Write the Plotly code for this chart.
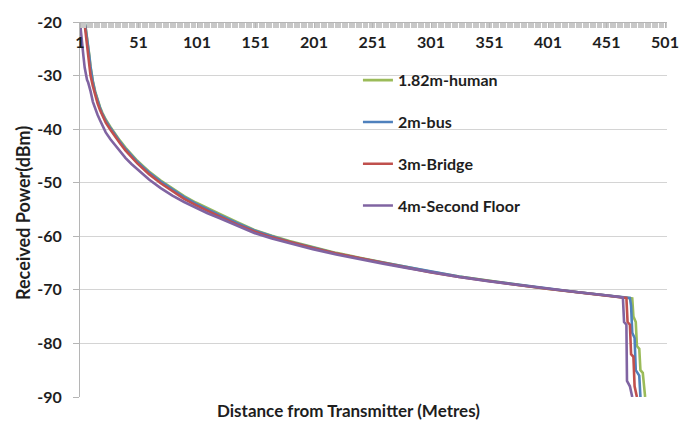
import plotly.graph_objects as go

# ---- data ----
# distance (category index along the x axis) and received power in dBm
green_x = [1, 2, 3, 4, 5, 6, 7, 8, 9, 10, 11, 12, 14, 16, 18, 20, 23, 27, 30, 35, 40, 45, 50, 55, 60, 70, 80, 90,
           100, 110, 120, 135, 150, 165, 180, 200, 220, 240, 260, 280, 300, 325, 350, 375, 400, 425, 450, 473,
           474, 476, 477, 479, 480, 482, 484]
green_y = [-20, -20, -20, -20, -20, -21.3, -22.8, -24.6, -26.3, -28.3, -29.8, -31.0, -33.0, -34.5, -35.8, -36.9,
           -38.2, -39.6, -40.6, -42.1, -43.5, -44.8, -45.9, -46.9, -47.9, -49.6, -51.1, -52.5, -53.7, -54.8, -55.8,
           -57.3, -58.8, -59.9, -60.9, -62.0, -63.1, -64.0, -64.9, -65.8, -66.6, -67.5, -68.3, -69.0, -69.8, -70.4,
           -71.0, -71.6, -75, -76, -80.5, -81, -85, -85.5, -90]

blue_x = [1, 2, 3, 4, 5, 6, 7, 8, 9, 10, 11, 12, 14, 16, 18, 20, 23, 27, 30, 35, 40, 45, 50, 55, 60, 70, 80, 90,
          100, 110, 120, 135, 150, 165, 180, 200, 220, 240, 260, 280, 300, 325, 350, 375, 400, 425, 450, 471,
          472, 473, 475, 476, 479, 480]
blue_y = [-20, -20, -20, -20, -20, -21.5, -23.0, -24.8, -26.5, -28.5, -30.0, -31.2, -33.2, -34.7, -36.0, -37.1,
          -38.4, -39.8, -40.8, -42.3, -43.7, -45.0, -46.1, -47.1, -48.1, -49.8, -51.3, -52.7, -53.9, -55.0, -56.0,
          -57.5, -58.9, -60.0, -61.0, -62.1, -63.2, -64.1, -64.9, -65.8, -66.6, -67.5, -68.3, -69.0, -69.8, -70.4,
          -71.0, -71.5, -73, -78, -79, -85, -86, -90]

red_x = [1, 2, 3, 4, 5, 6, 7, 8, 9, 10, 12, 14, 16, 18, 20, 23, 27, 30, 35, 40, 45, 50, 55, 60, 70, 80, 90,
         100, 110, 120, 135, 150, 165, 180, 200, 220, 240, 260, 280, 300, 325, 350, 375, 400, 425, 450, 468,
         469, 471, 472, 474, 475, 477]
red_y = [-20, -20, -20, -20, -20.5, -22.5, -24.0, -25.8, -28.0, -30.0, -32.0, -33.8, -35.2, -36.4, -37.5, -38.8,
         -40.1, -41.1, -42.6, -44.0, -45.3, -46.4, -47.4, -48.4, -50.1, -51.6, -53.0, -54.2, -55.3, -56.3, -57.8,
         -59.1, -60.2, -61.1, -62.2, -63.2, -64.1, -64.9, -65.8, -66.7, -67.6, -68.4, -69.1, -69.8, -70.4, -71.0,
         -71.5, -76, -76.5, -82, -82.5, -88, -90]

purple_x = [1, 2, 3, 4, 5, 6, 7, 8, 9, 10, 12, 14, 16, 18, 20, 23, 27, 30, 35, 40, 45, 50, 55, 60, 70, 80, 90,
            100, 110, 120, 135, 150, 165, 180, 200, 220, 240, 260, 280, 300, 325, 350, 375, 400, 425, 450, 465,
            466, 468, 468.5, 471, 473]
purple_y = [-20, -21.8, -24.0, -26.5, -28.5, -30.0, -30.8, -31.3, -31.9, -32.9, -34.9, -36.2, -37.3, -38.3, -39.3,
            -40.6, -41.9, -42.7, -44.1, -45.4, -46.5, -47.5, -48.5, -49.4, -51.0, -52.4, -53.6, -54.7, -55.7, -56.6,
            -58.0, -59.4, -60.4, -61.3, -62.4, -63.4, -64.3, -65.1, -65.9, -66.7, -67.6, -68.4, -69.1, -69.8, -70.4,
            -71.0, -71.4, -76, -76.5, -87, -88, -90]

series_names = ["1.82m-human", "2m-bus", "3m-Bridge", "4m-Second Floor"]
series_x = [green_x, blue_x, red_x, purple_x]
series_y = [green_y, blue_y, red_y, purple_y]
series_colors = ["#9BBB59", "#4F81BD", "#C0504D", "#8064A2"]

x_tick_vals = [1, 51, 101, 151, 201, 251, 301, 351, 401, 451, 501]
y_tick_vals = [-20, -30, -40, -50, -60, -70, -80, -90]

FONT = "Lato"
TXT = "#1e1e1e"

fig = go.Figure()
for i, (name, xs, ys, col) in enumerate(zip(series_names, series_x, series_y, series_colors)):
    fig.add_trace(go.Scatter(
        x=xs, y=ys, mode="lines", name=name, legendgroup=f"g{i}",
        line=dict(color=col, width=2.6),
    ))

fig.update_layout(
    width=692, height=423,
    margin=dict(l=80, r=25, t=18, b=26),
    paper_bgcolor="white", plot_bgcolor="white",
    font=dict(family=FONT, color=TXT),
    showlegend=True,
    legend=dict(
        x=0.4735, y=0.89, xanchor="left", yanchor="top",
        bgcolor="rgba(0,0,0,0)", traceorder="grouped", tracegroupgap=18,
        font=dict(family=FONT, size=16, color=TXT, weight="bold"),
        itemwidth=30,
    ),
    xaxis=dict(
        range=[1, 502.7], anchor="free", position=1.0, side="bottom",
        tickvals=x_tick_vals, ticktext=[str(v) for v in x_tick_vals],
        showgrid=False, zeroline=False,
        showline=True, linecolor="#b5b5b5", linewidth=1,
        ticks="outside", ticklen=5, tickcolor="#b5b5b5",
        minor=dict(dtick=1, tick0=1, ticks="outside", ticklen=5, tickcolor="#c8c8c8", showgrid=False),
        tickfont=dict(family=FONT, size=16, color=TXT, weight="bold"),
        ticklabelstandoff=1,
    ),
    yaxis=dict(
        range=[-90, -20], tickvals=y_tick_vals, ticktext=[str(v) for v in y_tick_vals],
        showgrid=True, gridcolor="#d4d4d4", gridwidth=1, zeroline=False,
        showline=True, linecolor="#b5b5b5", linewidth=1,
        ticks="outside", ticklen=6, tickcolor="#b5b5b5",
        tickfont=dict(family=FONT, size=16, color=TXT, weight="bold"),
        ticklabelstandoff=8,
    ),
    annotations=[
        dict(text="Distance from Transmitter (Metres)", xref="paper", yref="paper",
             x=(348 - 80) / 587, y=(397 - 411) / 379, xanchor="center", yanchor="middle", showarrow=False,
             font=dict(family=FONT, size=17, color=TXT, weight="bold")),
        dict(text="Received Power(dBm)", xref="paper", yref="paper",
             x=(23 - 80) / 587, y=(397 - 211) / 379, xanchor="center", yanchor="middle",
             textangle=-90, showarrow=False,
             font=dict(family=FONT, size=18, color=TXT, weight="bold")),
    ],
)

fig.write_html("out.html")
